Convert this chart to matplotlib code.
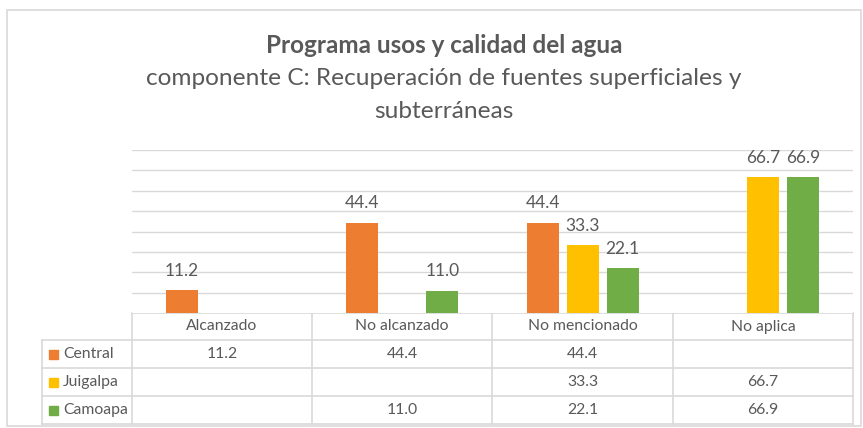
"""Bar chart with data table: Programa usos y calidad del agua, componente C."""

import matplotlib

matplotlib.use("Agg")
import matplotlib.pyplot as plt
import numpy as np
from matplotlib.patches import Rectangle

plt.rcParams["font.family"] = ["Lato", "DejaVu Sans"]

CATEGORIES = ["Alcanzado", "No alcanzado", "No mencionado", "No aplica"]
SERIES = ["Central", "Juigalpa", "Camoapa"]
CENTRAL = [11.2, 44.4, 44.4, np.nan]
JUIGALPA = [np.nan, np.nan, 33.3, 66.7]
CAMOAPA = [np.nan, 11.0, 22.1, 66.9]
COLORS = ["#ED7D31", "#FFC000", "#70AD47"]
Y_TICKS = [10, 20, 30, 40, 50, 60, 70, 80]

TITLE = "Programa usos y calidad del agua"
SUBTITLE = "componente C: Recuperación de fuentes superficiales y\nsubterráneas"

TXT = "#595959"
GRID = "#d9d9d9"
W, H = 863, 428

fig = plt.figure(figsize=(W / 100, H / 100), dpi=100)

# full-figure overlay in pixel coordinates for frame, titles and table
ov = fig.add_axes([0, 0, 1, 1])
ov.set_xlim(0, W)
ov.set_ylim(H, 0)
ov.axis("off")
ov.add_patch(Rectangle((7, 10), W - 9, H - 12, fill=False, ec=GRID, lw=1.2))

ov.text(444, 45, TITLE, ha="center", va="center", fontsize=17.5,
        fontweight="bold", color=TXT)
ov.text(444, 95, SUBTITLE, ha="center", va="center", fontsize=17.6,
        color=TXT, linespacing=1.68)

# plot area
x0, x1, ytop, ybot = 132, 853, 150, 313
ax = fig.add_axes([x0 / W, (H - ybot) / H, (x1 - x0) / W, (ybot - ytop) / H])
ax.set_xlim(-0.5, len(CATEGORIES) - 0.5)
ax.set_ylim(0, 80)
for y in Y_TICKS:
    ax.axhline(y, color=GRID, lw=1.0, zorder=0)
ax.set_xticks([])
ax.set_yticks([])
for sp in ax.spines.values():
    sp.set_visible(False)

bw = 32 / 180
step = 40 / 180
idx = np.arange(len(CATEGORIES))
for k, (vals, col) in enumerate(zip([CENTRAL, JUIGALPA, CAMOAPA], COLORS)):
    pos = idx + (k - 1) * step
    ax.bar(pos, vals, width=bw, color=col, zorder=2)
    for p, v in zip(pos, vals):
        if not np.isnan(v):
            ax.annotate(f"{v:.1f}", (p, v), xytext=(0, 8), textcoords="offset points",
                        ha="center", va="bottom", fontsize=12.5, color=TXT)

# data table
col_edges = [42, 132, 312, 492, 673, 853]
row_edges = [313, 340, 368, 396, 424]
lc = dict(color=GRID, lw=1.2)
ov.plot([col_edges[1], col_edges[-1]], [row_edges[0]] * 2, **lc)
for y in row_edges[1:]:
    ov.plot([col_edges[0], col_edges[-1]], [y, y], **lc)
ov.plot([col_edges[0]] * 2, [row_edges[1], row_edges[-1]], **lc)
for x in col_edges[1:]:
    ov.plot([x, x], [row_edges[0], row_edges[-1]], **lc)

for j, cat in enumerate(CATEGORIES):
    cx = (col_edges[j + 1] + col_edges[j + 2]) / 2
    ov.text(cx, (row_edges[0] + row_edges[1]) / 2, cat, ha="center", va="center",
            fontsize=11.3, color=TXT)

for i, (name, vals, col) in enumerate(zip(SERIES, [CENTRAL, JUIGALPA, CAMOAPA], COLORS)):
    cy = (row_edges[i + 1] + row_edges[i + 2]) / 2
    ov.add_patch(Rectangle((49, cy - 4.5), 8.5, 9, color=col))
    ov.text(63, cy, name, ha="left", va="center", fontsize=11.3, color=TXT)
    for j, v in enumerate(vals):
        if not np.isnan(v):
            cx = (col_edges[j + 1] + col_edges[j + 2]) / 2
            ov.text(cx, cy, f"{v:.1f}", ha="center", va="center", fontsize=11.3, color=TXT)

fig.savefig("out.png", dpi=100)
